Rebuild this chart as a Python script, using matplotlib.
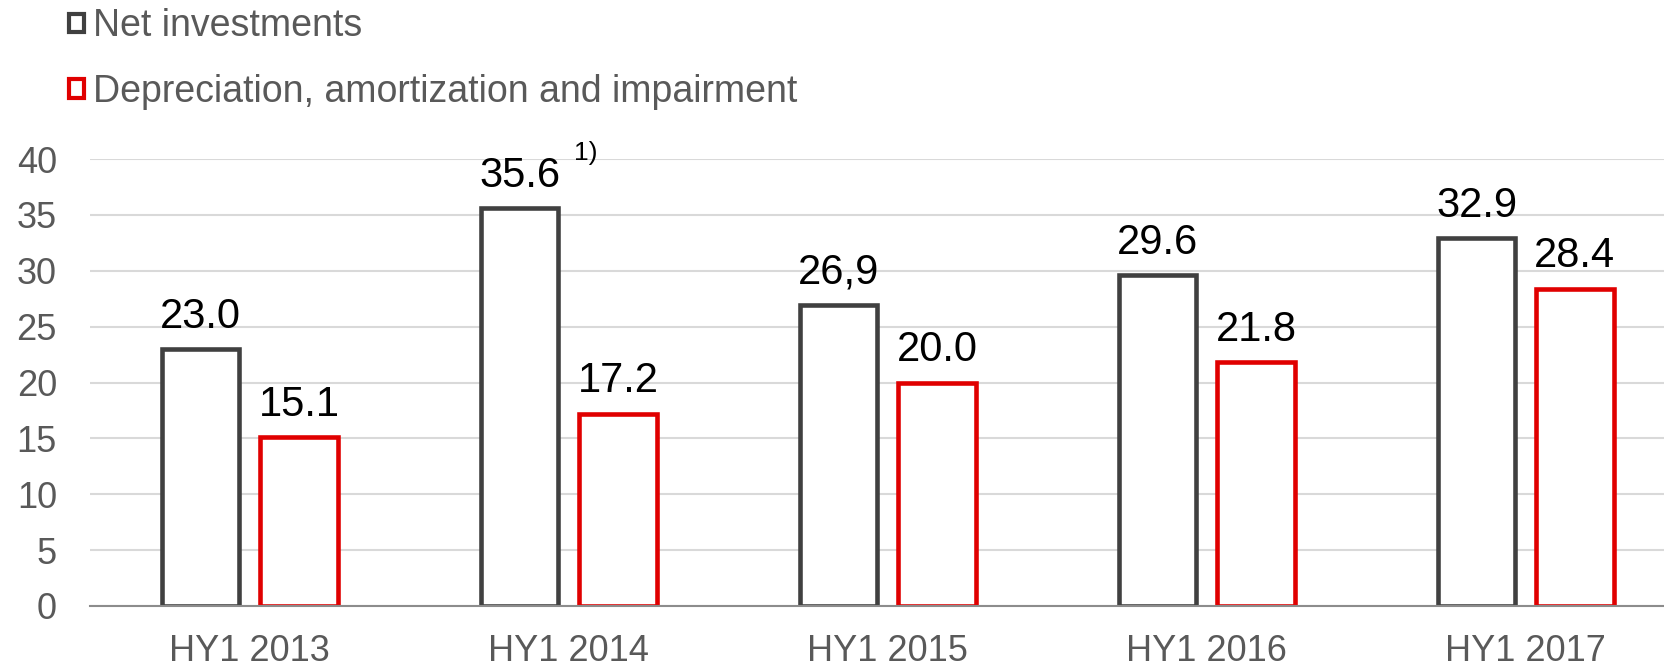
import matplotlib.pyplot as plt
from matplotlib.patches import Patch
import numpy as np

plt.rcParams['font.family'] = ['Liberation Sans', 'DejaVu Sans']

categories = ['HY1 2013', 'HY1 2014', 'HY1 2015', 'HY1 2016', 'HY1 2017']
net_investments = [23.0, 35.6, 26.9, 29.6, 32.9]
net_labels = ['23.0', '35.6', '26,9', '29.6', '32.9']
depreciation = [15.1, 17.2, 20.0, 21.8, 28.4]
dep_labels = ['15.1', '17.2', '20.0', '21.8', '28.4']
yticks = [0, 5, 10, 15, 20, 25, 30, 35, 40]

dark = '#404040'
red = '#e00000'
gray = '#595959'

fig = plt.figure(figsize=(16.65, 6.67), dpi=100)
# axes runs slightly past the right edge, as in the original
ax = fig.add_axes([0.0542, 0.0915, 0.958, 0.670])

x = np.arange(len(categories))
w = 0.243
off = 0.154

ax.bar(x - off, net_investments, w, facecolor='white', edgecolor=dark, linewidth=3.3, zorder=3)
ax.bar(x + off, depreciation, w, facecolor='white', edgecolor=red, linewidth=3.3, zorder=3)

for xi, v, lab in zip(x - off, net_investments, net_labels):
    ax.annotate(lab, (xi, v), xytext=(0, 9), textcoords='offset points',
                ha='center', va='bottom', fontsize=30, color='black', annotation_clip=False)
for xi, v, lab in zip(x + off, depreciation, dep_labels):
    ax.annotate(lab, (xi, v), xytext=(0, 9), textcoords='offset points',
                ha='center', va='bottom', fontsize=30, color='black', annotation_clip=False)

# footnote marker next to the 2014 value
ax.annotate('1)', (x[1] - off, net_investments[1]), xytext=(39, 31), textcoords='offset points',
            ha='left', va='bottom', fontsize=19, color='black', annotation_clip=False)

ax.set_ylim(0, 40)
ax.set_xlim(-0.5, len(categories) - 0.5)
ax.set_yticks(yticks)
ax.set_xticks(x)
ax.set_xticklabels(categories)
ax.tick_params(axis='both', length=0, labelsize=26, labelcolor=gray)
ax.tick_params(axis='x', pad=20)
ax.tick_params(axis='y', pad=24)

ax.grid(axis='y', color='#d9d9d9', linewidth=1.5, zorder=0)
for s in ['top', 'right', 'left']:
    ax.spines[s].set_visible(False)
ax.spines['bottom'].set_color('#8c8c8c')
ax.spines['bottom'].set_linewidth(1.5)
ax.spines['bottom'].set_zorder(4)

handles = [Patch(facecolor='white', edgecolor=dark, linewidth=3, label='Net investments'),
           Patch(facecolor='white', edgecolor=red, linewidth=3, label='Depreciation, amortization and impairment')]
fig.legend(handles=handles, loc='upper left', bbox_to_anchor=(0.021, 1.038), frameon=False,
           fontsize=27, labelcolor=gray, handlelength=0.4, handleheight=0.4,
           handletextpad=0.25, labelspacing=0.78)

fig.savefig('out.png', dpi=100)
